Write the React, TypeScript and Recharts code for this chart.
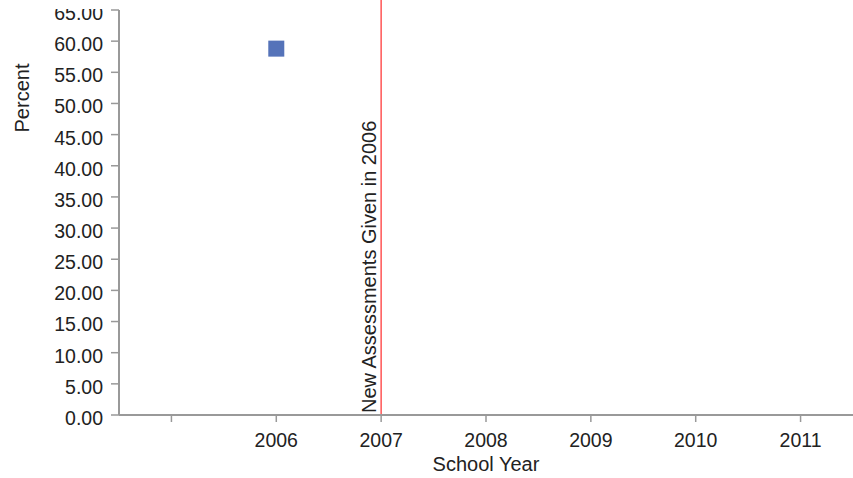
import React from 'react';
import { ComposedChart, Line, XAxis, YAxis, ReferenceLine } from 'recharts';

const years: string[] = ['', '2006', '2007', '2008', '2009', '2010', '2011'];
const percentValues: (number | null)[] = [null, 58.8, null, null, null, null, null];
const yTicks: number[] = [0, 5, 10, 15, 20, 25, 30, 35, 40, 45, 50, 55, 60, 65];
const markerYear = '2007';
const markerLabel = 'New Assessments Given in 2006';
const markerTopValue = 66.6;
const xTitle = 'School Year';
const yTitle = 'Percent';

const data = years.map((y, i) => ({ year: y, value: percentValues[i] }));

const FONT = '"Liberation Sans", Arial, sans-serif';
const TEXT = '#222';
const AXIS = '#999';

const YTick = (props: any) => {
  const { x, y, payload } = props;
  const top = payload.value === 65;
  return (
    <g>
      {top && (
        <defs>
          <clipPath id="topTickClip">
            <rect x={0} y={9} width={200} height={100} />
          </clipPath>
        </defs>
      )}
      <text
        x={x}
        y={y + 3}
        dy="0.355em"
        textAnchor="end"
        fill={TEXT}
        fontSize={19.5}
        fontFamily={FONT}
        clipPath={top ? 'url(#topTickClip)' : undefined}
      >
        {Number(payload.value).toFixed(2)}
      </text>
    </g>
  );
};

const SquareDot = (props: any) => {
  const { cx, cy, value, index } = props;
  if (value == null || cy == null || isNaN(cy)) return <g key={`d${index}`} />;
  return <rect key={`d${index}`} x={cx - 8} y={cy - 8} width={16} height={16} fill="#5573b9" />;
};

const XTitle = (props: any) => {
  const vb = props.viewBox || {};
  return (
    <text
      x={vb.x + vb.width / 2}
      y={vb.y + vb.height - 7}
      textAnchor="middle"
      fill={TEXT}
      fontSize={20}
      fontFamily={FONT}
    >
      {xTitle}
    </text>
  );
};

const YTitle = (props: any) => {
  const vb = props.viewBox || {};
  const x = vb.x + 29;
  const y = vb.y + 88;
  return (
    <text
      x={x}
      y={y}
      transform={`rotate(-90, ${x}, ${y})`}
      textAnchor="middle"
      fill={TEXT}
      fontSize={20}
      fontFamily={FONT}
    >
      {yTitle}
    </text>
  );
};

const MarkerLabel = (props: any) => {
  const vb = props.viewBox || {};
  const x = vb.x - 5;
  const y = vb.y + vb.height - 2;
  return (
    <text
      x={x}
      y={y}
      transform={`rotate(-90, ${x}, ${y})`}
      textAnchor="start"
      fill={TEXT}
      fontSize={20}
      fontFamily={FONT}
    >
      {markerLabel}
    </text>
  );
};

export default function App() {
  return (
    <div style={{ position: 'absolute', left: 0, top: 0 }}>
      <ComposedChart
        width={853}
        height={478}
        data={data}
        margin={{ top: 10, right: 0, bottom: 0, left: 0 }}
      >
        <XAxis
          dataKey="year"
          scale="band"
          interval={0}
          height={63}
          axisLine={{ stroke: AXIS, strokeWidth: 2 }}
          tickLine={{ stroke: AXIS, strokeWidth: 1.5 }}
          tickSize={7}
          tickMargin={11}
          tick={{ fill: TEXT, fontSize: 19.5, fontFamily: FONT }}
          label={<XTitle />}
        />
        <YAxis
          type="number"
          domain={[0, 65]}
          ticks={yTicks}
          interval={0}
          width={119}
          axisLine={{ stroke: AXIS, strokeWidth: 2 }}
          tickLine={{ stroke: AXIS, strokeWidth: 1.5 }}
          tickSize={8}
          tickMargin={8}
          tick={<YTick />}
          label={<YTitle />}
        />
        <Line
          dataKey="value"
          stroke="none"
          isAnimationActive={false}
          dot={SquareDot}
          activeDot={false}
          connectNulls={false}
        />
        <ReferenceLine
          segment={[
            { x: markerYear, y: 0 },
            { x: markerYear, y: markerTopValue },
          ]}
          ifOverflow="visible"
          stroke="#ff5555"
          strokeWidth={1.5}
          label={<MarkerLabel />}
        />
      </ComposedChart>
    </div>
  );
}
